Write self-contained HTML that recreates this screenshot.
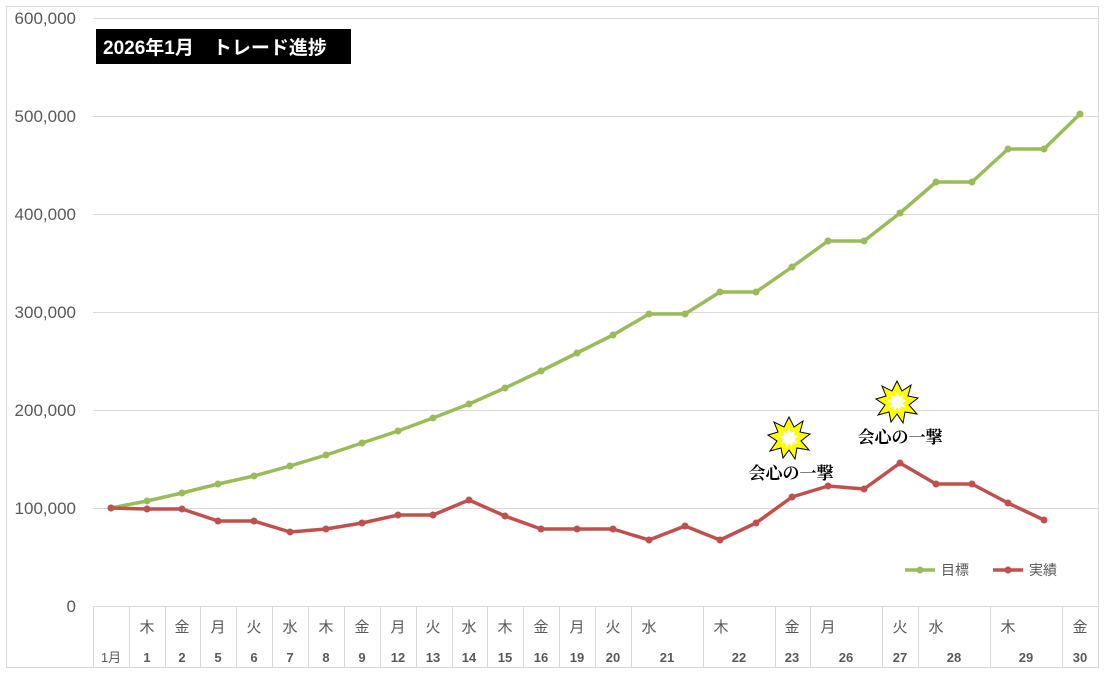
<!DOCTYPE html>
<html><head><meta charset="utf-8"><style>body{margin:0;background:#fff}svg{display:block}</style></head><body>
<svg width="1106" height="673" xmlns="http://www.w3.org/2000/svg" font-family="Liberation Sans, Noto Sans CJK JP, sans-serif">
<rect x="6.5" y="6.5" width="1092" height="661" fill="#fff" stroke="#d9d9d9"/>
<g stroke="#d9d9d9" stroke-width="1">
<line x1="93" y1="18.5" x2="1098" y2="18.5"/><line x1="93" y1="116.5" x2="1098" y2="116.5"/>
<line x1="93" y1="214.5" x2="1098" y2="214.5"/><line x1="93" y1="312.5" x2="1098" y2="312.5"/>
<line x1="93" y1="410.5" x2="1098" y2="410.5"/><line x1="93" y1="508.5" x2="1098" y2="508.5"/>
<line x1="93" y1="606.5" x2="1098" y2="606.5"/>
</g>
<g stroke="#d9d9d9">
<line x1="93.5" y1="606" x2="93.5" y2="668"/><line x1="129.5" y1="606" x2="129.5" y2="668"/><line x1="165.5" y1="606" x2="165.5" y2="668"/><line x1="200.5" y1="606" x2="200.5" y2="668"/><line x1="236.5" y1="606" x2="236.5" y2="668"/><line x1="272.5" y1="606" x2="272.5" y2="668"/><line x1="308.5" y1="606" x2="308.5" y2="668"/><line x1="344.5" y1="606" x2="344.5" y2="668"/><line x1="380.5" y1="606" x2="380.5" y2="668"/><line x1="416.5" y1="606" x2="416.5" y2="668"/><line x1="452.5" y1="606" x2="452.5" y2="668"/><line x1="487.5" y1="606" x2="487.5" y2="668"/><line x1="523.5" y1="606" x2="523.5" y2="668"/><line x1="559.5" y1="606" x2="559.5" y2="668"/><line x1="595.5" y1="606" x2="595.5" y2="668"/><line x1="631.5" y1="606" x2="631.5" y2="668"/><line x1="703.5" y1="606" x2="703.5" y2="668"/><line x1="775.5" y1="606" x2="775.5" y2="668"/><line x1="810.5" y1="606" x2="810.5" y2="668"/><line x1="882.5" y1="606" x2="882.5" y2="668"/><line x1="918.5" y1="606" x2="918.5" y2="668"/><line x1="990.5" y1="606" x2="990.5" y2="668"/><line x1="1062.5" y1="606" x2="1062.5" y2="668"/><line x1="1098.5" y1="6" x2="1098.5" y2="668"/>
</g>
<g fill="#595959" font-size="17" text-anchor="end">
<text x="76" y="24">600,000</text><text x="76" y="122">500,000</text><text x="76" y="220">400,000</text><text x="76" y="318">300,000</text><text x="76" y="416">200,000</text><text x="76" y="514">100,000</text><text x="76" y="612">0</text>
</g>
<g fill="#595959" font-size="15" text-anchor="middle">
<text x="147" y="632">木</text><text x="182" y="632">金</text><text x="218" y="632">月</text><text x="254" y="632">火</text><text x="290" y="632">水</text><text x="326" y="632">木</text><text x="362" y="632">金</text><text x="398" y="632">月</text><text x="433" y="632">火</text><text x="469" y="632">水</text><text x="505" y="632">木</text><text x="541" y="632">金</text><text x="577" y="632">月</text><text x="613" y="632">火</text><text x="649" y="632">水</text><text x="721" y="632">木</text><text x="792" y="632">金</text><text x="828" y="632">月</text><text x="900" y="632">火</text><text x="936" y="632">水</text><text x="1008" y="632">木</text><text x="1080" y="632">金</text>
</g>
<g fill="#595959" font-size="13" font-weight="bold" text-anchor="middle">
<text x="111" y="662" font-weight="normal">1月</text><text x="147" y="662">1</text><text x="182" y="662">2</text><text x="218" y="662">5</text><text x="254" y="662">6</text><text x="290" y="662">7</text><text x="326" y="662">8</text><text x="362" y="662">9</text><text x="398" y="662">12</text><text x="433" y="662">13</text><text x="469" y="662">14</text><text x="505" y="662">15</text><text x="541" y="662">16</text><text x="577" y="662">19</text><text x="613" y="662">20</text><text x="667" y="662">21</text><text x="739" y="662">22</text><text x="792" y="662">23</text><text x="846" y="662">26</text><text x="900" y="662">27</text><text x="954" y="662">28</text><text x="1026" y="662">29</text><text x="1080" y="662">30</text>
</g>
<polyline fill="none" stroke="#9bbb59" stroke-width="3.5" stroke-linejoin="round" points="111,508 147,501 182,493 218,484 254,476 290,466 326,455 362,443 398,431 433,418 469,404 505,388 541,371 577,353 613,335 649,314 685,314 720,292 756,292 792,267 828,241 864,241 900,213 936,182 972,182 1008,149 1044,149 1080,114"/>
<g fill="#9bbb59"><circle cx="111" cy="508" r="3.5"/><circle cx="147" cy="501" r="3.5"/><circle cx="182" cy="493" r="3.5"/><circle cx="218" cy="484" r="3.5"/><circle cx="254" cy="476" r="3.5"/><circle cx="290" cy="466" r="3.5"/><circle cx="326" cy="455" r="3.5"/><circle cx="362" cy="443" r="3.5"/><circle cx="398" cy="431" r="3.5"/><circle cx="433" cy="418" r="3.5"/><circle cx="469" cy="404" r="3.5"/><circle cx="505" cy="388" r="3.5"/><circle cx="541" cy="371" r="3.5"/><circle cx="577" cy="353" r="3.5"/><circle cx="613" cy="335" r="3.5"/><circle cx="649" cy="314" r="3.5"/><circle cx="685" cy="314" r="3.5"/><circle cx="720" cy="292" r="3.5"/><circle cx="756" cy="292" r="3.5"/><circle cx="792" cy="267" r="3.5"/><circle cx="828" cy="241" r="3.5"/><circle cx="864" cy="241" r="3.5"/><circle cx="900" cy="213" r="3.5"/><circle cx="936" cy="182" r="3.5"/><circle cx="972" cy="182" r="3.5"/><circle cx="1008" cy="149" r="3.5"/><circle cx="1044" cy="149" r="3.5"/><circle cx="1080" cy="114" r="3.5"/></g>
<polyline fill="none" stroke="#c0504d" stroke-width="3.5" stroke-linejoin="round" points="111,508 147,509 182,509 218,521 254,521 290,532 326,529 362,523 398,515 433,515 469,500 505,516 541,529 577,529 613,529 649,540 685,526 720,540 756,523 792,497 828,486 864,489 900,463 936,484 972,484 1008,503 1044,520"/>
<g fill="#c0504d"><circle cx="111" cy="508" r="3.5"/><circle cx="147" cy="509" r="3.5"/><circle cx="182" cy="509" r="3.5"/><circle cx="218" cy="521" r="3.5"/><circle cx="254" cy="521" r="3.5"/><circle cx="290" cy="532" r="3.5"/><circle cx="326" cy="529" r="3.5"/><circle cx="362" cy="523" r="3.5"/><circle cx="398" cy="515" r="3.5"/><circle cx="433" cy="515" r="3.5"/><circle cx="469" cy="500" r="3.5"/><circle cx="505" cy="516" r="3.5"/><circle cx="541" cy="529" r="3.5"/><circle cx="577" cy="529" r="3.5"/><circle cx="613" cy="529" r="3.5"/><circle cx="649" cy="540" r="3.5"/><circle cx="685" cy="526" r="3.5"/><circle cx="720" cy="540" r="3.5"/><circle cx="756" cy="523" r="3.5"/><circle cx="792" cy="497" r="3.5"/><circle cx="828" cy="486" r="3.5"/><circle cx="864" cy="489" r="3.5"/><circle cx="900" cy="463" r="3.5"/><circle cx="936" cy="484" r="3.5"/><circle cx="972" cy="484" r="3.5"/><circle cx="1008" cy="503" r="3.5"/><circle cx="1044" cy="520" r="3.5"/></g>
<rect x="96" y="29" width="255" height="35" fill="#000"/>
<text x="103" y="54" fill="#fff" font-size="19" font-weight="bold">2026年1月　トレード進捗</text>
<g stroke="#000" stroke-width="1" fill="#ffff00">
<polygon transform="translate(789,438)" points="0,-21 5,-11 14,-17 11,-6 21,-4 12,3 20,12 8,10 6,21 0,12 -6,20 -8,10 -19,13 -12,3 -21,-3 -11,-6 -15,-16 -5,-11"/>
<polygon transform="translate(897,402)" points="0,-21 5,-11 14,-17 11,-6 21,-4 12,3 20,12 8,10 6,21 0,12 -6,20 -8,10 -19,13 -12,3 -21,-3 -11,-6 -15,-16 -5,-11"/>
</g>
<g fill="#fff"><polygon transform="translate(789,438) scale(0.45)" points="0,-21 5,-11 14,-17 11,-6 21,-4 12,3 20,12 8,10 6,21 0,12 -6,20 -8,10 -19,13 -12,3 -21,-3 -11,-6 -15,-16 -5,-11"/>
<polygon transform="translate(897,402) scale(0.45)" points="0,-21 5,-11 14,-17 11,-6 21,-4 12,3 20,12 8,10 6,21 0,12 -6,20 -8,10 -19,13 -12,3 -21,-3 -11,-6 -15,-16 -5,-11"/></g>
<g font-size="17" font-weight="bold" fill="#000" text-anchor="middle" font-family="Liberation Serif, Noto Serif CJK SC, serif">
<text x="791" y="479">会心の一撃</text><text x="900" y="443">会心の一撃</text>
</g>
<line x1="905" y1="570" x2="935" y2="570" stroke="#9bbb59" stroke-width="3.5"/><circle cx="920" cy="570" r="3.5" fill="#9bbb59"/>
<text x="941" y="575" font-size="14" fill="#595959">目標</text>
<line x1="993" y1="570" x2="1023" y2="570" stroke="#c0504d" stroke-width="3.5"/><circle cx="1008" cy="570" r="3.5" fill="#c0504d"/>
<text x="1029" y="575" font-size="14" fill="#595959">実績</text>
</svg>
</body></html>
